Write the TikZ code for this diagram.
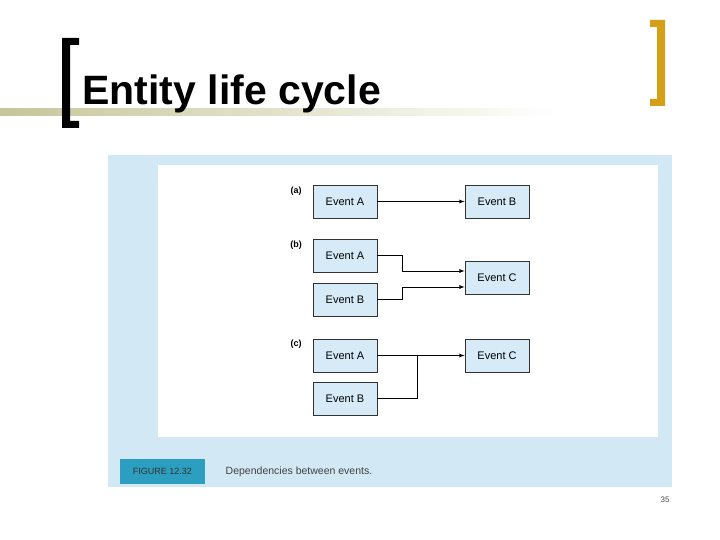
\documentclass[tikz,border=0pt]{standalone}
\usepackage{fontspec}
\setmainfont{Liberation Sans}
\usetikzlibrary{positioning}
\definecolor{panelblue}{HTML}{D2E9F5}
\definecolor{boxblue}{HTML}{D6EBF7}
\definecolor{capteal}{HTML}{2C9FC0}
\definecolor{gold}{HTML}{D4A017}
\definecolor{olive}{HTML}{C6C69A}
\tikzset{event/.style={draw=black!80,fill=boxblue,minimum width=64pt,minimum height=33pt,
                       inner sep=0pt,font=\fontsize{11}{12}\selectfont},
         part/.style={font=\bfseries\fontsize{9}{10}\selectfont}}
\begin{document}
\begin{tikzpicture}[x=1pt,y=-1pt,->,>=latex,thick]
\useasboundingbox[fill=white] (0,0) rectangle (720,540);
% title
\shade[left color=olive,right color=white,draw=none] (0,109) rectangle (560,116);
\fill[black] (62,38) rectangle (70,128) (62,38) rectangle (79,45) (62,121) rectangle (79,128);
\fill[gold] (657,20) rectangle (665,106) (650,20) rectangle (665,27) (650,99) rectangle (665,106);
\node[anchor=base west,font=\bfseries\fontsize{41}{46}\selectfont,inner sep=0pt] (title) at (82,105) {Entity life cycle};
% panels
\fill[panelblue] (108,155) rectangle (672,487);
\fill[white] (158,165) rectangle (658,437);
\node[fill=capteal,minimum width=85pt,minimum height=25pt,font=\fontsize{9}{10}\selectfont,text=black!80] (fig) at (162.5,471.5) {FIGURE 12.32};
\node[anchor=west,font=\fontsize{10.5}{12}\selectfont,text=black!75] (cap) at (222,471.5) {Dependencies between events.};
\node[font=\fontsize{8}{10}\selectfont,text=black!70] (page) at (665,500) {35};
% (a)
\node[part] (la) at (296,191) {(a)};
\node[event] (a1) at (345,201.5) {Event A};
\node[event] (a2) at (497,201.5) {Event B};
% (b)
\node[part] (lb) at (296,245) {(b)};
\node[event] (b1) at (345,255.5) {Event A};
\node[event] (b2) at (345,299.5) {Event B};
\node[event] (b3) at (497,278) {Event C};
% (c)
\node[part] (lc) at (296,344) {(c)};
\node[event] (c1) at (345,355.5) {Event A};
\node[event] (c2) at (345,398.5) {Event B};
\node[event] (c3) at (497,355.5) {Event C};
\path (a1) edge (a2);
\draw (b1.east) -| (402,271) -- (b3.west |- 0,271);
\draw (b2.east) -| (402,287) -- (b3.west |- 0,287);
\draw (c1) -- (c3);
\draw[-] (c2.east) -| (417,355.5);
\end{tikzpicture}
\end{document}
